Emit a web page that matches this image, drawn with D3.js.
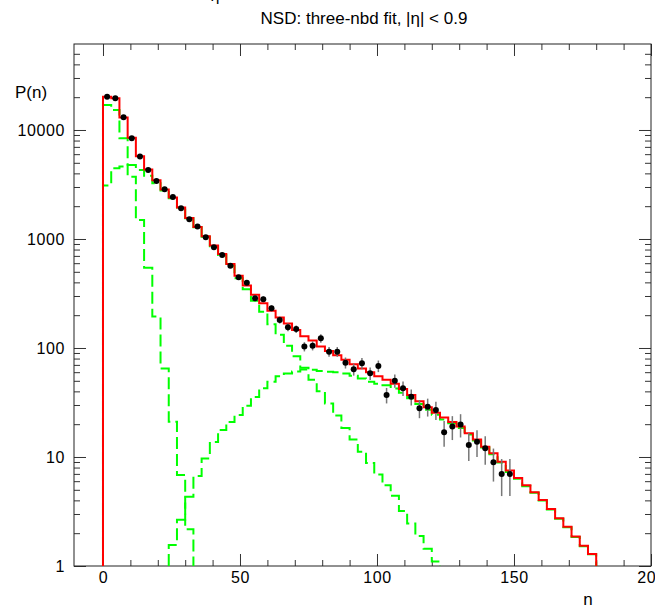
<!DOCTYPE html>
<html>
<head>
<meta charset="utf-8">
<script src="https://cdn.jsdelivr.net/npm/d3@7"></script>
<style>
body { margin: 0; background: #fff; }
text { font-family: "Liberation Sans", Arial, sans-serif; }
</style>
</head>
<body>
<svg id="chart" width="655" height="608"></svg>
<script>
// bin edges of the fit histogram (width 3)
var fitEdges = [0,3,6,9,12,15,18,21,24,27,30,33,36,39,42,45,48,51,54,57,60,63,66,69,72,75,78,81,84,87,
                90,93,96,99,102,105,108,111,114,117,120,123,126,129,132,135,138,141,144,147,150,153,156,159,162,165,168,171,174,177,180];

// total three-nbd fit, one value per bin
var fitTotal = [20200,19600,13000,8500,5750,4350,3450,2850,2400,1950,1560,1290,1060,870,730,590,460,375,308,258,
                220,190,168,146,128,117,103,94,86,78,71,65,60,55,51,47,42,37,32.5,28.6,
                25.5,23,21,19,16.5,14.5,12.4,10.8,9.05,7.5,6.4,5.5,4.75,4.03,3.33,2.74,2.29,1.86,1.53,1.29];

// the three nbd components, with the index of their first bin in fitEdges
var nbdAStart = 0;
var nbdA = [16950,15250,8400,3730,1494,545,194,65,21.1,6.84,2.17];
var nbdBStart = 0;
var nbdB = [3100,4450,4620,4780,4300,3800,3250,2780,2370,1940,1550,1280,1050,856,712,569,436,345,272,215,
            165,132,105,84,66,51,40,31,24,18.5,14.5,11.2,8.8,6.9,5.5,4.4,3.2,2.45,1.88,1.44,1.1];
var nbdCStart = 8;
var nbdC = [1.56,2.65,4.32,6.7,9.7,13.7,17.7,21,24.3,29.6,35.5,42.7,49,55,58.5,61,63.5,63,61.5,60.6,
            60,58.5,55.6,52.5,49,47,45.5,42.6,38.8,34.5,30.6,27.2,24.4,22.1,20.4,18.5,16.1,14.2,12.2,10.6,
            8.9,7.3,6.3,5.4,4.7,3.98,3.3,2.72,2.27,1.85,1.52,1.28];

// measured points
var dataN = [1.5,4.5,7.5,10.5,13.5,16.5,19.5,22.5,25.5,28.5,31.5,34.5,37.5,40.5,43.5,46.5,49.5,52.5,55.5,58.5,
             61.5,64.5,67.5,70.5,73.5,76.5,79.5,82.5,85.5,88.5,91.5,94.5,97.5,100.5,103.5,106.5,109.5,112.5,115.5,118.5,
             121.5,124.5,127.5,130.5,133.5,136.5,139.5,142.5,145.5,148.5];
var dataP = [20200,19500,13100,8400,5700,4300,3400,2860,2430,1910,1520,1300,1040,840,713,569,445,397,286,280,
             231,181,155,149,103,105,123,92.5,92.5,73.3,63.8,72.4,58.6,68.4,37,50.1,42.7,35.7,28,28.9,
             27,16.9,19,19.9,12.9,13.8,12,8.95,6.98,6.98];
var dataErr = [140,140,115,90,75,65,58,53,49,44,39,36,32,29,27,24,21,20,17,17,
               15,13.5,12.5,12,10,10,11,9.5,9.5,8.5,8,8.5,7.7,8.3,6,7,6.5,6,5.3,5.4,
               5.2,4.5,4.7,4.8,3.7,3.8,3.5,3,2.6,2.6];

var xMajor = [0,50,100,150,200];
var xMinor = [10,20,30,40,60,70,80,90,110,120,130,140,160,170,180,190];
var yMajor = [1,10,100,1000,10000];
var yMinor = [2,3,4,5,6,7,8,9,20,30,40,50,60,70,80,90,200,300,400,500,600,700,800,900,
              2000,3000,4000,5000,6000,7000,8000,9000,20000,30000,40000,50000];

var title = "NSD: three-nbd fit, |\u03b7| < 0.9";

var frameL = 74, frameR = 651, frameT = 44, frameB = 566;
var svg = d3.select("#chart");

var x = d3.scaleLinear().domain([-10.58, 200]).range([frameL, frameR]);
var y = d3.scaleLog().domain([1, 61500]).range([frameB, frameT]).clamp(true);

svg.append("defs").append("clipPath").attr("id", "frameClip")
    .append("rect").attr("x", frameL).attr("y", frameT).attr("width", frameR - frameL).attr("height", frameB - frameT);

// axes: minor first, then major with labels
function styleAxis(sel) {
    sel.selectAll("path").remove();
    sel.selectAll("line").attr("stroke", "#333").attr("stroke-width", 1);
    sel.selectAll("text").attr("fill", "#000").style("font-size", "16px").style("letter-spacing", "0.6px");
}
svg.append("g").attr("transform", `translate(0,${frameB})`)
    .call(d3.axisBottom(x).tickValues(xMinor).tickSize(-6).tickFormat("")).call(styleAxis);
svg.append("g").attr("transform", `translate(0,${frameB})`)
    .call(d3.axisBottom(x).tickValues(xMajor).tickSize(-12).tickPadding(6).tickFormat(d3.format("d"))).call(styleAxis);
svg.append("g").attr("transform", `translate(0,${frameT})`)
    .call(d3.axisTop(x).tickValues(xMinor).tickSize(-6).tickFormat("")).call(styleAxis);
svg.append("g").attr("transform", `translate(0,${frameT})`)
    .call(d3.axisTop(x).tickValues(xMajor).tickSize(-12).tickFormat("")).call(styleAxis);

svg.append("g").attr("transform", `translate(${frameL},0)`)
    .call(d3.axisLeft(y).tickValues(yMinor).tickSize(-6).tickFormat("")).call(styleAxis);
svg.append("g").attr("transform", `translate(${frameL},0)`)
    .call(d3.axisLeft(y).tickValues(yMajor).tickSize(-12).tickPadding(9).tickFormat(d3.format("d"))).call(styleAxis);
svg.append("g").attr("transform", `translate(${frameR},0)`)
    .call(d3.axisRight(y).tickValues(yMinor).tickSize(-6).tickFormat("")).call(styleAxis);
svg.append("g").attr("transform", `translate(${frameR},0)`)
    .call(d3.axisRight(y).tickValues(yMajor).tickSize(-12).tickFormat("")).call(styleAxis);

svg.append("rect").attr("x", frameL).attr("y", frameT).attr("width", frameR - frameL).attr("height", frameB - frameT)
    .attr("fill", "none").attr("stroke", "#222").attr("stroke-width", 1);

// step path of a histogram, starting and ending on the axis
function stepPoints(start, values) {
    var pts = [[fitEdges[start], 1]];
    values.forEach(function(v, i) {
        pts.push([fitEdges[start + i], v]);
        pts.push([fitEdges[start + i + 1], v]);
    });
    pts.push([fitEdges[start + values.length], 1]);
    return pts;
}
var line = d3.line().x(d => x(d[0])).y(d => y(d[1]));

var plot = svg.append("g").attr("clip-path", "url(#frameClip)");

[[nbdAStart, nbdA], [nbdBStart, nbdB], [nbdCStart, nbdC]].forEach(function(c) {
    plot.append("path")
        .attr("d", line(stepPoints(c[0], c[1])))
        .attr("fill", "none")
        .attr("stroke", "#00ff00")
        .attr("stroke-width", 2)
        .attr("stroke-dasharray", "12,5");
});

plot.append("path")
    .attr("d", line(stepPoints(0, fitTotal)))
    .attr("fill", "none")
    .attr("stroke", "#ff0000")
    .attr("stroke-width", 2);

// error bars and markers
plot.selectAll(".err").data(dataN).enter().append("line")
    .attr("class", "err")
    .attr("x1", d => x(d)).attr("x2", d => x(d))
    .attr("y1", (d, i) => y(dataP[i] + dataErr[i]))
    .attr("y2", (d, i) => y(Math.max(dataP[i] - dataErr[i], 1)))
    .attr("stroke", "#777")
    .attr("stroke-width", 1.5);
plot.selectAll(".pt").data(dataN).enter().append("circle")
    .attr("class", "pt")
    .attr("cx", d => x(d))
    .attr("cy", (d, i) => y(dataP[i]))
    .attr("r", 3)
    .attr("fill", "#000");

// texts
svg.append("text").attr("x", 364).attr("y", 24).attr("text-anchor", "middle")
    .style("font-size", "17px").text(title);
svg.append("text").attr("x", 215).attr("y", 1).attr("text-anchor", "middle")
    .style("font-size", "16px").text("\u03b7");
svg.append("text").attr("x", 15).attr("y", 98).style("font-size", "17px").text("P(n)");
svg.append("text").attr("x", 588).attr("y", 605).attr("text-anchor", "middle")
    .style("font-size", "17px").text("n");
</script>
</body>
</html>
